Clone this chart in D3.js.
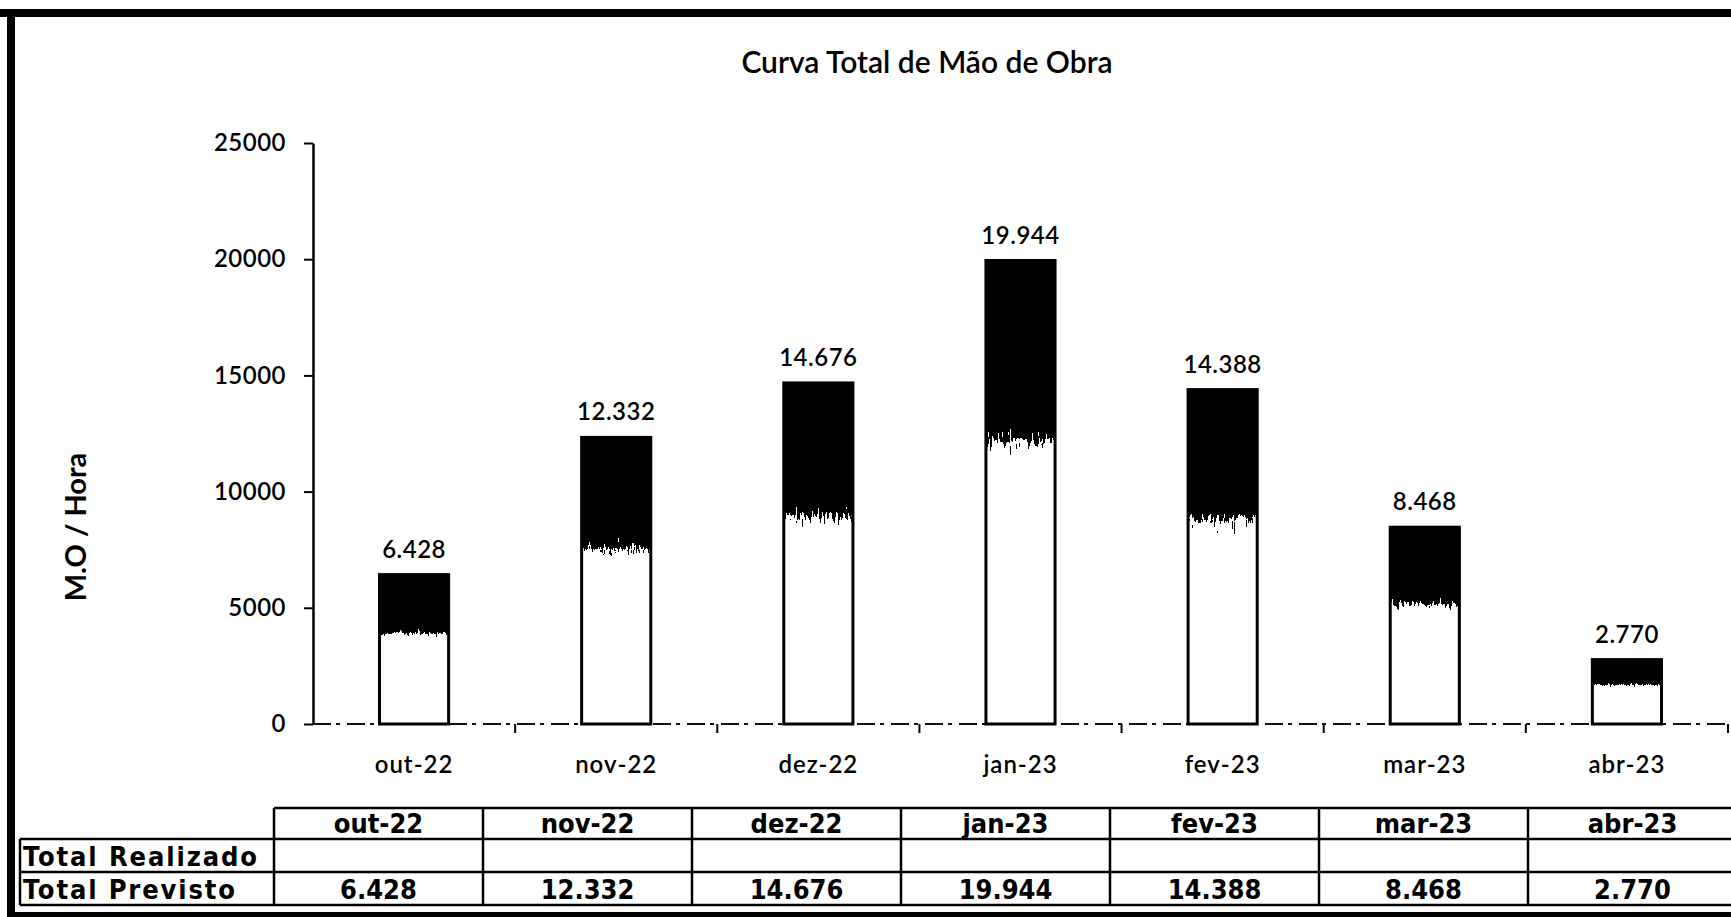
<!DOCTYPE html>
<html>
<head>
<meta charset="utf-8">
<script src="https://cdn.jsdelivr.net/npm/d3@7"></script>
<style>
  html, body { margin: 0; padding: 0; background: #fff; }
  svg { display: block; }
</style>
</head>
<body>
<div id="chart"></div>
<script>
// Curva Total de Mão de Obra - previsto por mês

const categories = ["out-22", "nov-22", "dez-22", "jan-23", "fev-23", "mar-23", "abr-23"];
const previsto = [6428, 12332, 14676, 19944, 14388, 8468, 2770];
const realizado = [null, null, null, null, null, null, null];
const yTicks = [0, 5000, 10000, 15000, 20000, 25000];
const rowLabels = ["Total Realizado", "Total Previsto"];

const width = 1731;
const height = 917;

// numbers like 6.428 (pt-BR thousands separator)
const ptBR = d3.formatLocale({ decimal: ",", thousands: ".", grouping: [3], currency: ["R$", ""] });
const fmt = ptBR.format(",d");

const chartFont = 'Lato, "Open Sans", "Noto Sans", sans-serif';
const tableFont = '"Liberation Sans Narrow", "DejaVu Sans Condensed", "Liberation Sans", sans-serif';

const svg = d3.select("#chart")
  .append("svg")
  .attr("width", width)
  .attr("height", height)
  .attr("viewBox", [0, 0, width, height]);

// gradient fill: black on top, white below
const defs = svg.append("defs");
const grad = defs.append("linearGradient")
  .attr("id", "barGrad")
  .attr("x1", 0).attr("y1", 0).attr("x2", 0).attr("y2", 1);
grad.append("stop").attr("offset", "0%").attr("stop-color", "#000");
grad.append("stop").attr("offset", "32%").attr("stop-color", "#000");
grad.append("stop").attr("offset", "46%").attr("stop-color", "#fff");
grad.append("stop").attr("offset", "100%").attr("stop-color", "#fff");

// threshold the gradient with some noise -> jagged scanned edge
const rough = defs.append("filter")
  .attr("id", "rough")
  .attr("color-interpolation-filters", "sRGB")
  .attr("x", 0).attr("y", 0).attr("width", 1).attr("height", 1);
rough.append("feTurbulence")
  .attr("type", "fractalNoise")
  .attr("baseFrequency", "0.5 0.08")
  .attr("numOctaves", 3)
  .attr("seed", 7)
  .attr("result", "noise");
rough.append("feColorMatrix")
  .attr("in", "noise")
  .attr("type", "matrix")
  .attr("values", "0.33 0.33 0.33 0 0  0.33 0.33 0.33 0 0  0.33 0.33 0.33 0 0  0 0 0 0 1")
  .attr("result", "gray");
rough.append("feComposite")
  .attr("in", "SourceGraphic")
  .attr("in2", "gray")
  .attr("operator", "arithmetic")
  .attr("k1", 0).attr("k2", 1).attr("k3", 1.3).attr("k4", -0.65)
  .attr("result", "mix");
const ct = rough.append("feComponentTransfer").attr("in", "mix").attr("result", "bw");
["feFuncR", "feFuncG", "feFuncB"].forEach(f => ct.append(f).attr("type", "discrete").attr("tableValues", "0 1"));
rough.append("feComposite")
  .attr("in", "bw")
  .attr("in2", "SourceAlpha")
  .attr("operator", "in");

// scales
const x = d3.scaleBand()
  .domain(categories)
  .range([313, 1728])
  .paddingInner(0.658)
  .paddingOuter(0.329);

const y = d3.scaleLinear()
  .domain([0, 25000])
  .range([724, 143]);

// title
svg.append("text")
  .attr("x", 927)
  .attr("y", 73)
  .attr("text-anchor", "middle")
  .style("font-family", chartFont)
  .style("font-size", "30px")
  .style("font-weight", "600")
  .text("Curva Total de Mão de Obra");

// y axis
const yAxis = svg.append("g")
  .attr("transform", "translate(313,0)")
  .call(d3.axisLeft(y).tickValues(yTicks).tickFormat(d3.format("d")).tickSize(9).tickSizeOuter(0).tickPadding(18));
yAxis.select(".domain").attr("stroke", "#000").attr("stroke-width", 2.5);
yAxis.selectAll(".tick line").attr("stroke", "#000").attr("stroke-width", 2);
yAxis.selectAll(".tick text")
  .style("font-family", chartFont)
  .style("font-size", "24px")
  .style("font-weight", "600")
  .style("letter-spacing", "0.5px")
  .attr("fill", "#000");

// y label
svg.append("text")
  .attr("transform", "translate(86,527) rotate(-90)")
  .attr("text-anchor", "middle")
  .style("font-family", chartFont)
  .style("font-size", "29px")
  .style("font-weight", "700")
  .text("M.O / Hora");

// x axis baseline (scanned look: broken line)
svg.append("line")
  .attr("x1", 313).attr("x2", 1728)
  .attr("y1", y(0)).attr("y2", y(0))
  .attr("stroke", "#111")
  .attr("stroke-width", 2)
  .attr("stroke-dasharray", "18 5 4 7");

// boundary ticks on x axis
const bounds = categories.map(c => x(c) + x.bandwidth() / 2 + x.step() / 2);
svg.append("g")
  .selectAll("line")
  .data(bounds)
  .join("line")
  .attr("x1", d => d).attr("x2", d => d)
  .attr("y1", y(0)).attr("y2", y(0) + 9)
  .attr("stroke", "#000")
  .attr("stroke-width", 2);

// bars: rough gradient fill, then outline
const bars = svg.append("g");
bars.selectAll("rect.fill")
  .data(previsto)
  .join("rect")
  .attr("class", "fill")
  .attr("x", (d, i) => x(categories[i]))
  .attr("y", d => y(d))
  .attr("width", x.bandwidth())
  .attr("height", d => y(0) - y(d))
  .attr("fill", "url(#barGrad)")
  .attr("filter", "url(#rough)");
bars.selectAll("rect.edge")
  .data(previsto)
  .join("rect")
  .attr("class", "edge")
  .attr("x", (d, i) => x(categories[i]))
  .attr("y", d => y(d))
  .attr("width", x.bandwidth())
  .attr("height", d => y(0) - y(d))
  .attr("fill", "none")
  .attr("stroke", "#000")
  .attr("stroke-width", 3);

// value labels
svg.append("g")
  .selectAll("text")
  .data(previsto)
  .join("text")
  .attr("x", (d, i) => x(categories[i]) + x.bandwidth() / 2)
  .attr("y", d => y(d) - 17)
  .attr("text-anchor", "middle")
  .style("font-family", chartFont)
  .style("font-size", "24px")
  .style("font-weight", "600")
  .style("letter-spacing", "0.5px")
  .text(d => fmt(d));

// category labels
svg.append("g")
  .selectAll("text")
  .data(categories)
  .join("text")
  .attr("x", d => x(d) + x.bandwidth() / 2)
  .attr("y", 773)
  .attr("text-anchor", "middle")
  .style("font-family", chartFont)
  .style("font-size", "24px")
  .style("font-weight", "600")
  .style("letter-spacing", "1px")
  .text(d => d);

// data table
const col = d3.scaleBand()
  .domain(categories)
  .range([274, 1737]);
const rowY = [808, 839, 872, 905];
const tableLeft = 20;
const tableRight = 1737;

const table = svg.append("g")
  .attr("stroke", "#000")
  .attr("stroke-width", 2.5);

// horizontal lines
table.append("line").attr("x1", 274).attr("x2", tableRight).attr("y1", rowY[0]).attr("y2", rowY[0]);
rowY.slice(1).forEach(yy => {
  table.append("line").attr("x1", tableLeft).attr("x2", tableRight).attr("y1", yy).attr("y2", yy);
});
// vertical lines
table.append("line").attr("x1", tableLeft).attr("x2", tableLeft).attr("y1", rowY[1]).attr("y2", rowY[3]);
categories.forEach(c => {
  table.append("line").attr("x1", col(c)).attr("x2", col(c)).attr("y1", rowY[0]).attr("y2", rowY[3]);
});

const tText = svg.append("g")
  .style("font-family", tableFont)
  .style("font-stretch", "condensed")
  .style("font-size", "27px")
  .style("font-weight", "700");

tText.selectAll("text.head")
  .data(categories)
  .join("text")
  .attr("class", "head")
  .attr("x", d => col(d) + col.bandwidth() / 2)
  .attr("y", rowY[1] - 6)
  .attr("text-anchor", "middle")
  .text(d => d);

rowLabels.forEach((lab, r) => {
  tText.append("text")
    .attr("x", tableLeft + 3)
    .attr("y", rowY[r + 2] - 6)
    .attr("textLength", r === 0 ? 234 : 212)
    .attr("lengthAdjust", "spacing")
    .text(lab);
});

tText.selectAll("text.real")
  .data(realizado)
  .join("text")
  .attr("class", "real")
  .attr("x", (d, i) => col(categories[i]) + col.bandwidth() / 2)
  .attr("y", rowY[2] - 6)
  .attr("text-anchor", "middle")
  .text(d => d == null ? "" : fmt(d));

tText.selectAll("text.prev")
  .data(previsto)
  .join("text")
  .attr("class", "prev")
  .attr("x", (d, i) => col(categories[i]) + col.bandwidth() / 2)
  .attr("y", rowY[3] - 6)
  .attr("text-anchor", "middle")
  .text(d => fmt(d));

// outer frame (thick, scanned)
const frame = svg.append("g").attr("fill", "#000");
frame.append("rect").attr("x", 0).attr("y", 9).attr("width", width).attr("height", 8);
frame.append("rect").attr("x", 7).attr("y", 9).attr("width", 8).attr("height", height - 9);
frame.append("rect").attr("x", 7).attr("y", 912).attr("width", width).attr("height", 5);
</script>
</body>
</html>
